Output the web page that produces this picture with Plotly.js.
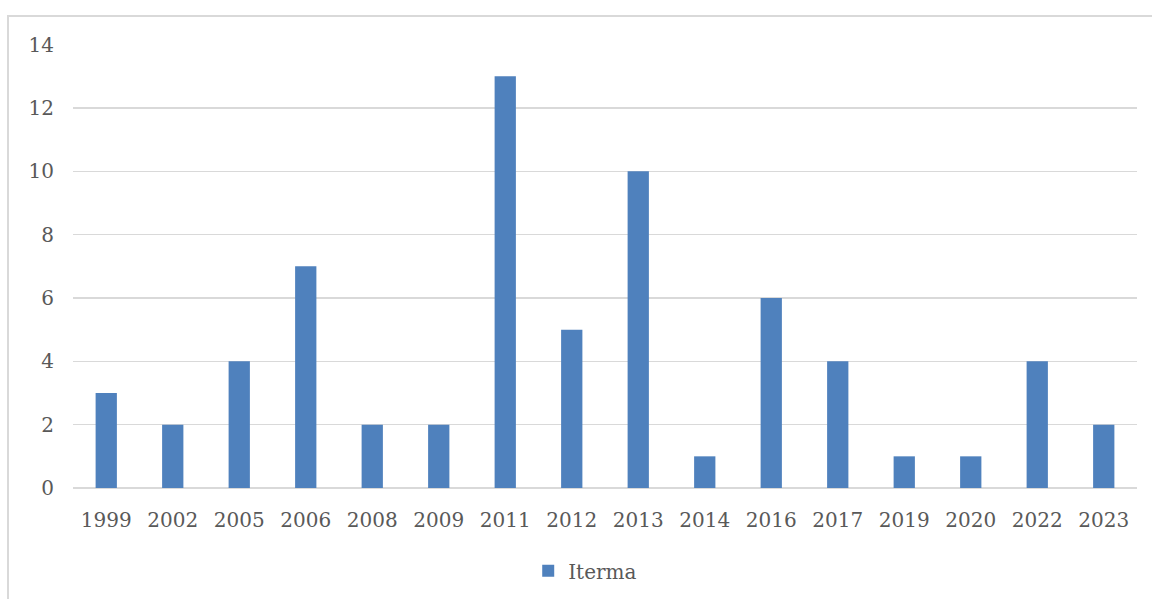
<!DOCTYPE html>
<html>
<head>
<meta charset="utf-8">
<script src="https://cdn.plot.ly/plotly-3.0.1.min.js"></script>
<style>
html,body{margin:0;padding:0;background:#fff;overflow:hidden;}
#frame{position:absolute;left:7px;top:15px;width:1200px;height:700px;border-left:2px solid #d9d9d9;border-top:2px solid #d9d9d9;box-sizing:border-box;}
#chart{position:absolute;left:0;top:0;width:1152px;height:599px;}
</style>
</head>
<body>
<div id="frame"></div>
<div id="chart"></div>
<script>
const years = ["1999","2002","2005","2006","2008","2009","2011","2012","2013","2014","2016","2017","2019","2020","2022","2023"];
const iterma = [3,2,4,7,2,2,13,5,10,1,6,4,1,1,4,2];
const seriesName = "Iterma";
const yTicks = [0,2,4,6,8,10,12,14];

const font = {family: "DejaVu Serif, serif", size: 20, color: "#595959"};

Plotly.newPlot("chart", [{
  type: "bar",
  x: years,
  y: iterma,
  name: seriesName,
  marker: {color: "#4f81bd"},
  showlegend: true
}], {
  width: 1152, height: 599,
  paper_bgcolor: "rgba(0,0,0,0)",
  plot_bgcolor: "rgba(0,0,0,0)",
  margin: {l: 73, r: 15, t: 44, b: 111, autoexpand: false},
  bargap: 0.68,
  font: font,
  xaxis: {type: "category", tickfont: font, showgrid: false, showline: false, ticks: "", ticklabelstandoff: 18},
  yaxis: {range: [0, 14.02], tickvals: yTicks, ticktext: yTicks.map(String), tickfont: font,
          showgrid: true, gridcolor: "#d9d9d9", gridwidth: 1.5, zeroline: true, zerolinecolor: "#d9d9d9", zerolinewidth: 1.5,
          showline: false, ticks: "", ticklabelstandoff: 18},
  showlegend: true,
  legend: {orientation: "h", xref: "container", yref: "container", x: 0.508, xanchor: "center", y: 0.047, yanchor: "middle", font: font, itemwidth: 30}
}, {staticPlot: true});
</script>
</body>
</html>
